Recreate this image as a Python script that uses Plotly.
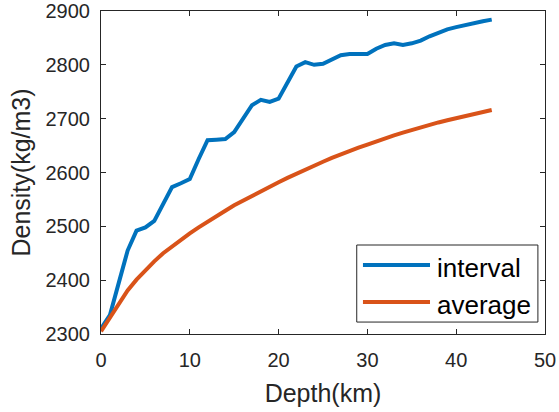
import plotly.graph_objects as go

depth = list(range(0, 45))
interval = [2310, 2335, 2395, 2455, 2492, 2498, 2510, 2540, 2573, 2580,
            2588, 2625, 2660, 2661, 2662, 2675, 2700, 2725, 2735, 2731,
            2737, 2768, 2797, 2805, 2800, 2802, 2810, 2818, 2820, 2820,
            2820, 2830, 2837, 2840, 2837, 2840, 2845, 2853, 2860, 2866,
            2870, 2874, 2878, 2881, 2884]
average = [2305, 2330, 2356, 2381, 2401, 2419, 2435, 2450, 2463, 2475,
           2487, 2498, 2509, 2519, 2529, 2539, 2548, 2557, 2566, 2574,
           2582, 2590, 2598, 2606, 2613, 2620, 2627, 2634, 2640, 2646,
           2652, 2658, 2664, 2669, 2674, 2679, 2684, 2689, 2693, 2697,
           2701, 2705, 2709, 2713, 2716]
names = ["interval", "average"]
colors = ["#0072BD", "#D95319"]

FONT = "Liberation Sans, Arial, Helvetica, sans-serif"
AX = "#262626"

fig = go.Figure()
for name, ys, c in zip(names, [interval, average], colors):
    fig.add_trace(go.Scatter(x=depth, y=ys, mode="lines", name=name,
                             line=dict(color=c, width=4), showlegend=False))

axis_common = dict(showline=True, linecolor=AX, linewidth=1, mirror="ticks",
                   ticks="inside", ticklen=5, tickcolor=AX, showgrid=False,
                   zeroline=False, tickfont=dict(family=FONT, size=20, color=AX))

fig.update_xaxes(range=[0, 50], dtick=10, tick0=0,
                 title=dict(text="Depth(km)", font=dict(family=FONT, size=25, color=AX), standoff=14),
                 ticklabelstandoff=8, **axis_common)
fig.update_yaxes(range=[2300, 2900], dtick=100, tick0=2300,
                 title=dict(text="Density(kg/m3)", font=dict(family=FONT, size=25, color=AX), standoff=7),
                 ticklabelstandoff=6, **axis_common)

# manual legend (MATLAB style)
fig.add_shape(type="rect", xref="paper", yref="paper", x0=0.576, x1=0.984, y0=0.037, y1=0.2755,
              line=dict(color=AX, width=1), fillcolor="white", layer="above")
for i, (name, c) in enumerate(zip(names, colors)):
    yy = [0.2136, 0.099][i]
    fig.add_shape(type="line", xref="paper", yref="paper", x0=0.590, x1=0.741, y0=yy, y1=yy,
                  line=dict(color=c, width=4), layer="above")
    fig.add_annotation(xref="paper", yref="paper", x=0.752, y=yy - 0.01, text=name,
                       showarrow=False, xanchor="left", yanchor="middle",
                       font=dict(family=FONT, size=26, color="#000000"))

fig.update_layout(width=559, height=412, margin=dict(l=101, r=14, t=11, b=78, autoexpand=False),
                  paper_bgcolor="white", plot_bgcolor="white", showlegend=False)
fig.write_html("out.html")
